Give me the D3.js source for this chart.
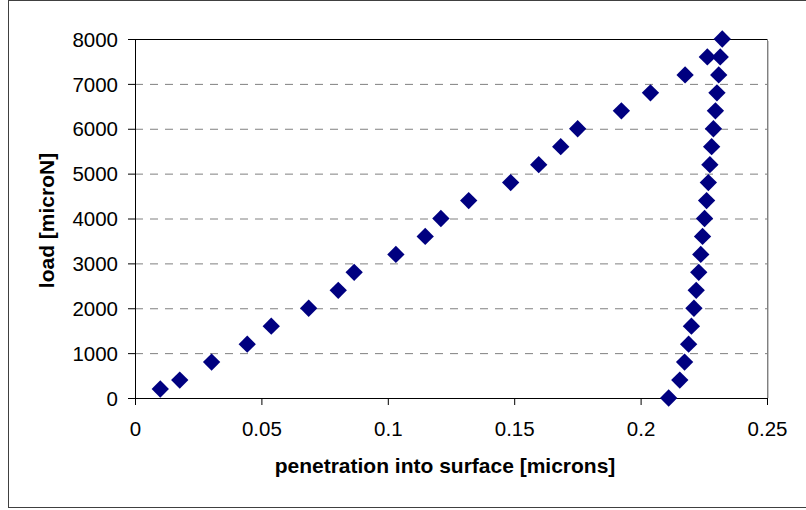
<!DOCTYPE html>
<html>
<head>
<meta charset="utf-8">
<script src="https://cdn.jsdelivr.net/npm/d3@7"></script>
<style>
  html, body { margin: 0; padding: 0; background: #fff; }
  svg { display: block; }
  text { font-family: "Liberation Sans", Arial, sans-serif; fill: #000; }
</style>
</head>
<body>
<svg id="chart" width="806" height="510"></svg>
<script>
// ---- data ----
const loadingLoad  = [200, 400, 800, 1200, 1600, 2000, 2400, 2800, 3200, 3600, 4000, 4400, 4800, 5200, 5600, 6000, 6400, 6800, 7200, 7600, 8000];
const loadingDepth = [0.0100, 0.0177, 0.0303, 0.0444, 0.0539, 0.0687, 0.0804, 0.0867, 0.1032, 0.1148, 0.1210, 0.1320, 0.1486, 0.1597, 0.1684, 0.1751, 0.1924, 0.2039, 0.2176, 0.2264, 0.2323];
const unloadLoad   = [7600, 7200, 6800, 6400, 6000, 5600, 5200, 4800, 4400, 4000, 3600, 3200, 2800, 2400, 2000, 1600, 1200, 800, 400, 0];
const unloadDepth  = [0.2315, 0.2309, 0.2302, 0.2296, 0.2288, 0.2281, 0.2274, 0.2268, 0.2261, 0.2253, 0.2245, 0.2238, 0.2230, 0.2220, 0.2211, 0.2201, 0.2190, 0.2174, 0.2155, 0.2111];
const xTicks = [0, 0.05, 0.1, 0.15, 0.2, 0.25];
const yTicks = [0, 1000, 2000, 3000, 4000, 5000, 6000, 7000, 8000];
const xTitle = "penetration into surface [microns]";
const yTitle = "load [microN]";

// ---- layout ----
const svg = d3.select("#chart");
const plot = { left: 135, top: 39, right: 767, bottom: 398 };

const x = d3.scaleLinear().domain([0, 0.25]).range([plot.left, plot.right]);
const y = d3.scaleLinear().domain([0, 8000]).range([plot.bottom, plot.top]);

// outer chart border
svg.append("rect")
  .attr("x", 8.5).attr("y", 0.5)
  .attr("width", 806).attr("height", 507)
  .attr("fill", "#fff").attr("stroke", "#404040").attr("stroke-width", 1);

// gridlines
svg.append("g")
  .selectAll("line")
  .data(yTicks.filter(d => d > 0 && d < 8000))
  .join("line")
  .attr("x1", plot.left).attr("x2", plot.right)
  .attr("y1", d => y(d) + 0.5).attr("y2", d => y(d) + 0.5)
  .attr("stroke", "#808080").attr("stroke-width", 1)
  .attr("stroke-dasharray", "8,7");

// plot area border (top + right)
svg.append("line")
  .attr("x1", plot.left).attr("x2", plot.right + 0.5)
  .attr("y1", plot.top + 0.5).attr("y2", plot.top + 0.5)
  .attr("stroke", "#000").attr("stroke-width", 1);
svg.append("line")
  .attr("x1", plot.right + 0.5).attr("x2", plot.right + 0.5)
  .attr("y1", plot.top).attr("y2", plot.bottom)
  .attr("stroke", "#808080").attr("stroke-width", 1);
svg.append("line")
  .attr("x1", plot.right + 1.5).attr("x2", plot.right + 1.5)
  .attr("y1", plot.top + 2).attr("y2", plot.bottom)
  .attr("stroke", "#c8c8c8").attr("stroke-width", 1);

// axes
const xAxis = d3.axisBottom(x).tickValues(xTicks).tickFormat(d => String(d)).tickSizeInner(7).tickSizeOuter(0).tickPadding(16);
const yAxis = d3.axisLeft(y).tickValues(yTicks).tickFormat(d3.format("d")).tickSizeInner(7).tickSizeOuter(0).tickPadding(10);

const gx = svg.append("g").attr("transform", `translate(0,${plot.bottom})`).call(xAxis);
const gy = svg.append("g").attr("transform", `translate(${plot.left},0)`).call(yAxis);

[gx, gy].forEach(g => {
  g.selectAll(".domain").attr("stroke", "#000").attr("stroke-width", 1);
  g.selectAll(".tick line").attr("stroke", "#000").attr("stroke-width", 1);
  g.selectAll(".tick text")
    .attr("font-family", "'Liberation Sans', Arial, sans-serif")
    .attr("font-size", 20.5)
    .attr("fill", "#000");
});
gx.selectAll(".tick text").attr("dy", "0.71em");
gy.selectAll(".tick text").attr("dy", "0.35em");

// axis titles
svg.append("text")
  .attr("x", (plot.left + plot.right) / 2 - 6)
  .attr("y", 473)
  .attr("text-anchor", "middle")
  .attr("font-weight", "bold")
  .attr("font-size", 21)
  .text(xTitle);

svg.append("text")
  .attr("transform", `translate(54,${(plot.top + plot.bottom) / 2 + 2}) rotate(-90)`)
  .attr("text-anchor", "middle")
  .attr("font-weight", "bold")
  .attr("font-size", 21)
  .text(yTitle);

// markers (diamonds)
const points = loadingLoad.map((l, i) => ({ x: loadingDepth[i], y: l }))
  .concat(unloadLoad.map((l, i) => ({ x: unloadDepth[i], y: l })));

const diamond = d3.symbol().type(d3.symbolSquare).size(150);
svg.append("g")
  .selectAll("path")
  .data(points)
  .join("path")
  .attr("d", diamond)
  .attr("transform", d => `translate(${x(d.x)},${y(d.y)}) rotate(45)`)
  .attr("fill", "#000080");
</script>
</body>
</html>
